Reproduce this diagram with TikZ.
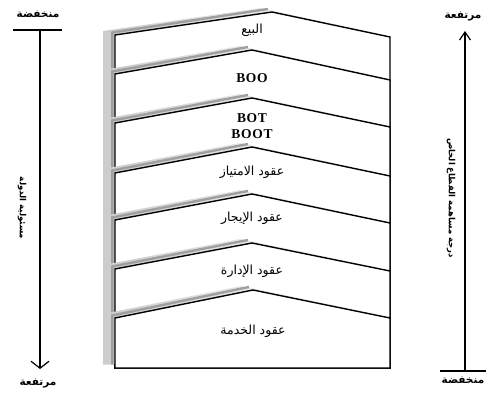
\documentclass[tikz,border=0pt]{standalone}
\usepackage{fontspec}
\setmainfont{Liberation Serif}
\newfontfamily\arabicfont[Script=Arabic]{DejaVu Sans}
\TeXXeTstate=1
\usetikzlibrary{arrows.meta}

% right-to-left Arabic text
\newcommand{\ar}[1]{{\arabicfont\beginR #1\endR}}

% one card of the stack: #1 left y, #2 peak x, #3 peak y, #4 right y
\newcommand{\drawcard}[4]{%
  \shade[left color=gray!40, right color=white]
    (103,364) -- (103,#1-4) -- (#2-12,#3-4) -- (378,#4-4) -- (378,364) -- cycle;
  \draw[gray!75, line width=2.4pt]
    (112.3,364) -- (112.3,#1-2.5) -- (#2-4,#3-3);
  \filldraw[fill=white, draw=black, line width=1.4pt]
    (115,368) -- (115,#1) -- (#2,#3) -- (390,#4) -- (390,368) -- cycle;
}

\tikzset{
  axisline/.style={line width=1.4pt, black},
  cardtext/.style={font=\arabicfont\fontsize{12.5}{14}\selectfont, inner sep=0pt},
  latintext/.style={font=\bfseries\fontsize{13.5}{15}\selectfont\addfontfeatures{LetterSpace=5}, inner sep=0pt},
  endlabel/.style={font=\arabicfont\bfseries\fontsize{10.5}{12}\selectfont, inner sep=0pt},
  sidelabel/.style={font=\arabicfont\bfseries\fontsize{8.5}{10}\selectfont, inner sep=0pt, rotate=-90},
}

\begin{document}
\begin{tikzpicture}[x=1pt, y=-1pt]
\useasboundingbox (0,0) rectangle (490,395);
\fill[white] (0,0) rectangle (490,395);

% stacked cards, top to bottom
\drawcard{35}{272}{12}{37}
\drawcard{74}{252}{50}{80}
\drawcard{123}{252}{98}{127}
\drawcard{173}{252}{147}{176}
\drawcard{220}{252}{194}{223}
\drawcard{269}{252}{243}{271}
\drawcard{318}{253}{290}{318}

% card labels
\node[cardtext] (sale) at (252,30) {\ar{البيع}};
\node[latintext] (boo) at (252,78) {BOO};
\node[latintext] (bot) at (252,118) {BOT};
\node[latintext] (boot) at (252,134) {BOOT};
\node[cardtext] (conc) at (252,172) {\ar{عقود الامتياز}};
\node[cardtext] (lease) at (252,218) {\ar{عقود الإيجار}};
\node[cardtext] (mgmt) at (252,271) {\ar{عقود الإدارة}};
\node[cardtext] (serv) at (253,331) {\ar{عقود الخدمة}};

% left axis: state responsibility
\coordinate (lbarA) at (13,30);
\coordinate (lbarB) at (62,30);
\coordinate (ltop) at (40,30);
\coordinate (lbot) at (40,369);
\draw[axisline] (lbarA) -- (lbarB);
\draw[axisline, -{Straight Barb[length=7pt, width=18pt, line width=1.2pt]}] (ltop) -- (lbot);
\node[endlabel] (llow) at (38,14) {\ar{منخفضة}};
\node[endlabel] (lhigh) at (38,383) {\ar{مرتفعة}};
\node[sidelabel] (ltext) at (22,208) {\ar{مسئولية الدولة}};

% right axis: private sector participation
\coordinate (rbarA) at (440,371);
\coordinate (rbarB) at (486,371);
\coordinate (rbot) at (465,371);
\coordinate (rtop) at (465,31);
\draw[axisline] (rbarA) -- (rbarB);
\draw[axisline, -{Straight Barb[length=8pt, width=11pt, line width=1.2pt]}] (rbot) -- (rtop);
\node[endlabel] (rhigh) at (463,16) {\ar{مرتفعة}};
\node[endlabel] (rlow) at (463,380) {\ar{منخفضة}};
\node[sidelabel] (rtext) at (451,198) {\ar{درجة مساهمة القطاع الخاص}};
\end{tikzpicture}
\end{document}
